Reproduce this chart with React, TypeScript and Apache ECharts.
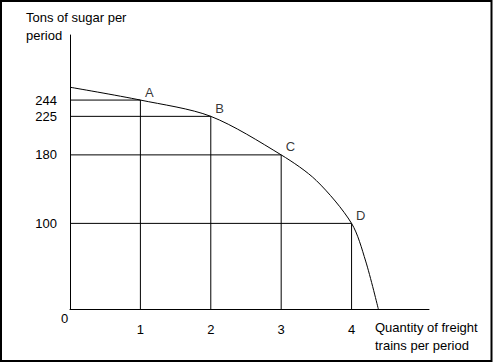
import React, { useEffect, useRef } from "react";
import * as echarts from "echarts";

// Labelled combinations on the production possibilities frontier
const pointNames = ["A", "B", "C", "D"];
const trains = [1, 2, 3, 4];
const sugar = [244, 225, 180, 100];

// Frontier curve
const curveX = [0, 1, 2, 3, 3.5, 4, 4.2, 4.38];
const curveY = [259, 244, 225, 180, 150, 100, 56, 0];

const xTickLabels = [1, 2, 3, 4];
const yTickLabels = [100, 180, 225, 244];

const yTitle = "Tons of sugar per\nperiod";
const xTitle = "Quantity of freight\ntrains per period";

const FONT = "'Liberation Sans', Arial, sans-serif";

export default function App() {
  const ref = useRef<HTMLDivElement>(null);

  useEffect(() => {
    document.body.style.margin = "0";
    const chart = echarts.init(ref.current!, null, { renderer: "svg" });

    const dropSeries = trains.map((x, i) => ({
      type: "line",
      data: [
        [0, sugar[i]],
        [x, sugar[i]],
        [x, 0],
      ],
      symbol: "none",
      silent: true,
      lineStyle: { color: "#000", width: 1 },
      z: 2,
    }));

    chart.setOption({
      animation: false,
      backgroundColor: "#fff",
      textStyle: { fontFamily: FONT },
      grid: { left: 70, right: 64, top: 35, bottom: 54, containLabel: false },
      xAxis: {
        type: "value",
        min: 0,
        max: 5.1,
        splitLine: { show: false },
        axisLine: { lineStyle: { color: "#000", width: 1 } },
        axisTick: { show: false },
        axisLabel: {
          customValues: xTickLabels,
          color: "#000",
          fontSize: 13,
          fontFamily: FONT,
          margin: 14,
        },
      },
      yAxis: {
        type: "value",
        min: 0,
        max: 320,
        splitLine: { show: false },
        axisLine: { show: true, lineStyle: { color: "#000", width: 1 } },
        axisTick: { show: false },
        axisLabel: {
          customValues: yTickLabels,
          color: "#000",
          fontSize: 13,
          fontFamily: FONT,
          margin: 13,
        },
      },
      series: [
        {
          type: "line",
          data: curveX.map((x, i) => [x, curveY[i]]),
          smooth: 0.3,
          symbol: "none",
          lineStyle: { color: "#000", width: 1 },
          z: 3,
        },
        ...dropSeries,
        {
          type: "scatter",
          data: trains.map((x, i) => ({ value: [x, sugar[i]], name: pointNames[i] })),
          symbolSize: 1,
          itemStyle: { color: "transparent" },
          label: {
            show: true,
            formatter: (p: any) => p.name,
            position: "right",
            distance: 4,
            offset: [0, -8],
            color: "#000",
            fontSize: 13,
            fontFamily: FONT,
          },
          z: 4,
        },
      ],
      graphic: [
        {
          type: "rect",
          shape: { x: 1, y: 1, width: 490.5, height: 360 },
          style: { fill: "none", stroke: "#000", lineWidth: 2 },
          silent: true,
        },
        {
          type: "text",
          left: 26,
          top: 8,
          style: {
            text: yTitle,
            fill: "#000",
            font: `13px ${FONT}`,
            lineHeight: 18,
          },
        },
        {
          type: "text",
          left: 375,
          top: 318,
          style: {
            text: xTitle,
            fill: "#000",
            font: `13px ${FONT}`,
            lineHeight: 18,
          },
        },
        {
          type: "text",
          left: 61,
          top: 312,
          style: { text: "0", fill: "#000", font: `13px ${FONT}` },
        },
      ],
    });

    return () => chart.dispose();
  }, []);

  return <div ref={ref} style={{ width: 493, height: 363 }} />;
}
